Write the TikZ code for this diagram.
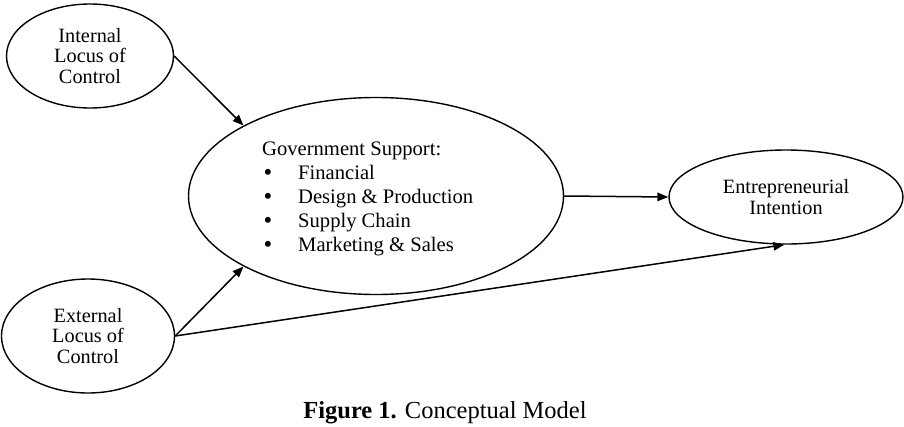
\documentclass[tikz,border=0pt]{standalone}
\usepackage{fontspec}
\setmainfont{Liberation Serif}
\usetikzlibrary{shapes.geometric,arrows.meta}
\newcommand{\bigdot}{\makebox[36pt][l]{\hspace{1.5pt}\raisebox{-1pt}{\scalebox{1.2}{\textbullet}}}}
\begin{document}
\begin{tikzpicture}[x=1pt,y=-1pt,
  oval/.style={draw,ellipse,line width=1.4pt,inner sep=0pt,align=center,
    font=\fontsize{20.3}{20.5}\selectfont},
  conn/.style={line width=1.5pt,-{Triangle[length=11pt,width=8.5pt]}}]
\useasboundingbox (0,0) rectangle (904,426);
\node[oval,minimum width=167pt,minimum height=104pt] (int) at (90,56) {Internal\\Locus of\\Control};
\node[oval,minimum width=173pt,minimum height=114pt] (ext) at (88,336) {External\\Locus of\\Control};
\node[oval,minimum width=375pt,minimum height=197pt] (gov) at (376,196) {};
\node[oval,minimum width=234pt,minimum height=94pt] (ent) at (786,197) {Entrepreneurial\\Intention};
\node[anchor=north west,inner sep=0pt,font=\fontsize{20.6}{24.2}\selectfont] (govtext) at (262,138)
  {\begin{tabular}{@{}l@{}}Government Support:\\
   \bigdot Financial\\
   \bigdot Design \& Production\\
   \bigdot Supply Chain\\
   \bigdot Marketing \& Sales\end{tabular}};
\draw[conn] (int.east) -- (gov.152);
\draw[conn] (ext.east) -- (gov.208);
\draw[conn] (ext.east) -- (ent.268);
\draw[conn] (gov.east) -- (ent.west);
\node[font=\fontsize{24.5}{26}\selectfont,inner sep=0pt,anchor=base] (cap) at (445,418) {\textbf{Figure 1.} Conceptual Model};
\end{tikzpicture}
\end{document}
